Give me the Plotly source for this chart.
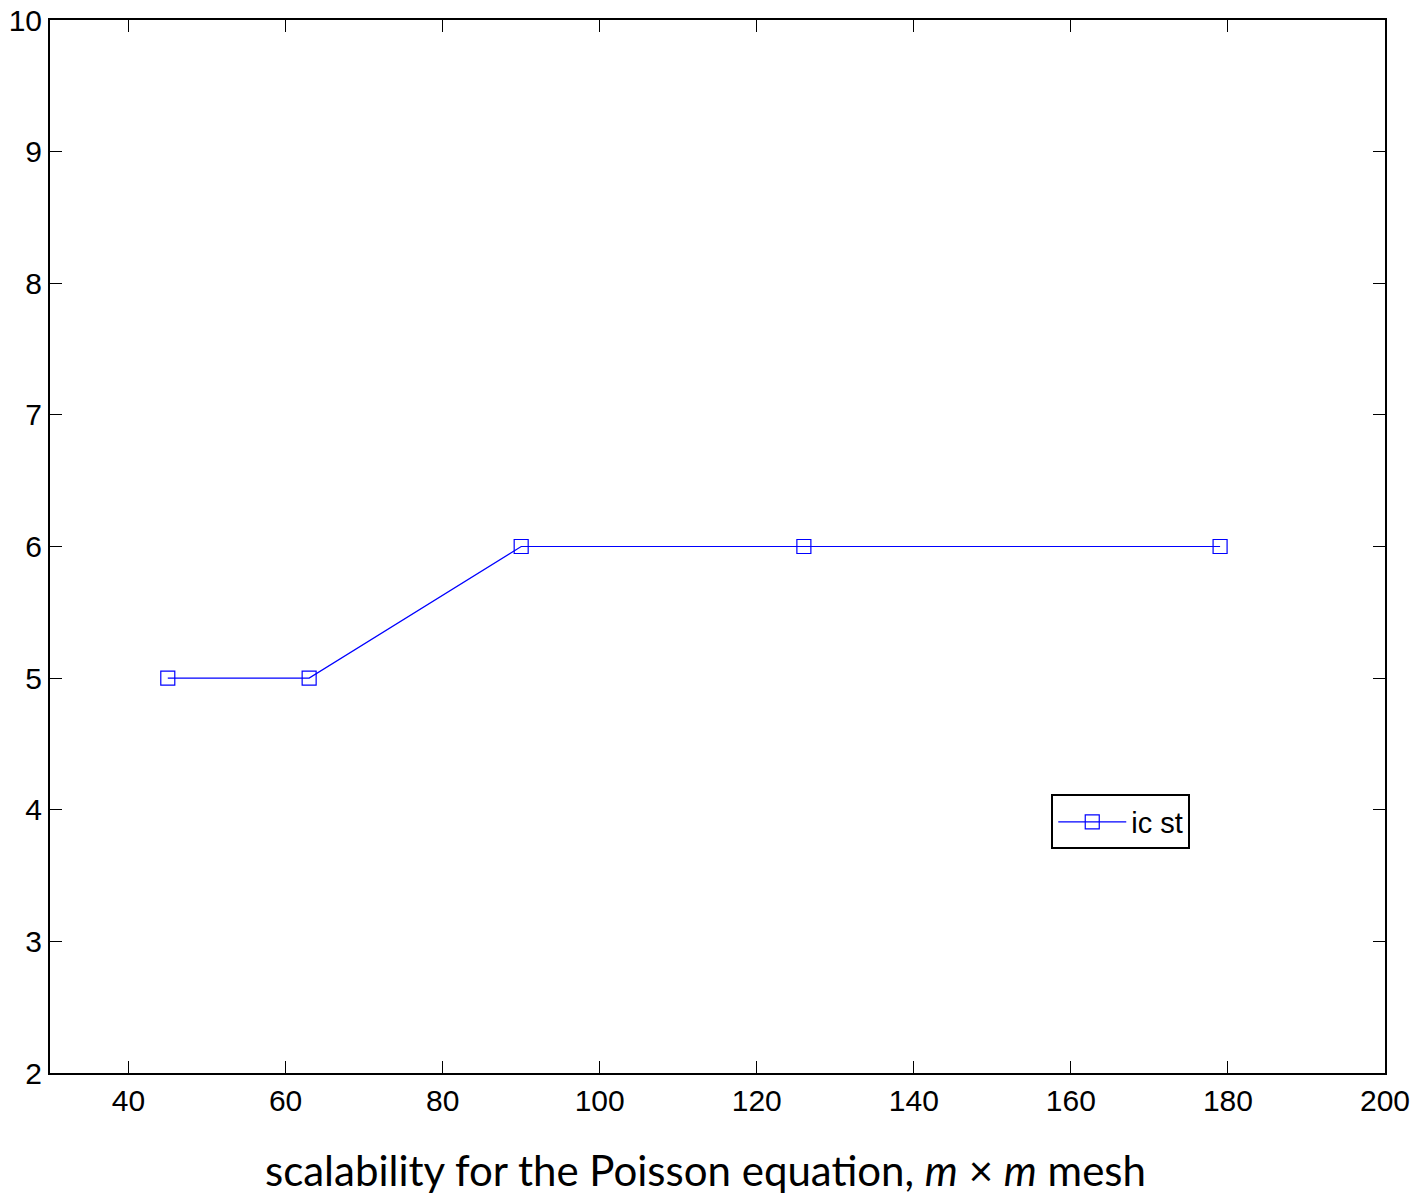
import plotly.graph_objects as go

# mesh size m and iteration counts for the ic st preconditioner
mesh_m = [45, 63, 90, 126, 179]
iterations = [5, 5, 6, 6, 6]
series_name = "ic st"

x_ticks = [40, 60, 80, 100, 120, 140, 160, 180, 200]
y_ticks = [2, 3, 4, 5, 6, 7, 8, 9, 10]
x_title = "scalability for the Poisson equation, <i>m</i> × <i>m</i> mesh"

SANS = "Liberation Sans"

fig = go.Figure()
fig.add_trace(go.Scatter(
    x=mesh_m, y=iterations, name=series_name, mode="lines+markers",
    line=dict(color="#0000ff", width=1.2),
    marker=dict(symbol="square-open", size=14, color="#0000ff", line=dict(width=1.2)),
))

axis_common = dict(
    showline=True, linecolor="black", linewidth=2, mirror="ticks",
    ticks="inside", ticklen=12, tickwidth=1, tickcolor="black",
    showgrid=False, zeroline=False, automargin=False,
    tickfont=dict(family=SANS, size=30, color="black"),
)

fig.update_xaxes(range=[30, 200], tickvals=x_ticks, **axis_common)
fig.update_yaxes(range=[2, 10], tickvals=y_ticks, **axis_common)

# axis caption placed beneath the plot area
fig.add_annotation(
    text=x_title, xref="paper", yref="paper", x=0.491, y=-0.092,
    xanchor="center", yanchor="middle", showarrow=False,
    font=dict(family="Lato", size=42, color="black"),
)

fig.update_layout(
    width=1428, height=1194,
    margin=dict(l=50, r=43, t=20, b=121),
    plot_bgcolor="white", paper_bgcolor="white",
    font=dict(family=SANS, size=30, color="black"),
    showlegend=True,
    legend=dict(
        x=0.75, y=0.2384, xanchor="left", yanchor="middle",
        bgcolor="white", bordercolor="black", borderwidth=2,
        itemwidth=68,
        font=dict(family=SANS, size=29, color="black"),
    ),
)

fig.write_html("out.html")
